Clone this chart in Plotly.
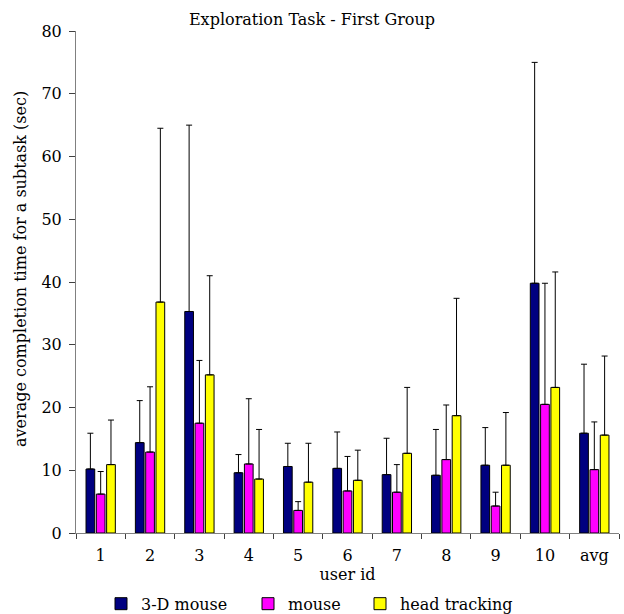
import plotly.graph_objects as go

categories = ["1", "2", "3", "4", "5", "6", "7", "8", "9", "10", "avg"]
mouse3d = [10.2, 14.4, 35.3, 9.6, 10.6, 10.3, 9.3, 9.2, 10.8, 39.8, 15.9]
mouse3d_err_top = [15.9, 21.1, 65.0, 12.5, 14.3, 16.1, 15.1, 16.5, 16.8, 75.0, 26.9]
mouse = [6.2, 12.9, 17.5, 11.0, 3.6, 6.7, 6.5, 11.7, 4.3, 20.5, 10.1]
mouse_err_top = [9.8, 23.3, 27.5, 21.4, 5.0, 12.2, 10.9, 20.4, 6.5, 39.8, 17.7]
head = [10.9, 36.8, 25.2, 8.6, 8.1, 8.4, 12.7, 18.7, 10.8, 23.2, 15.6]
head_err_top = [18.0, 64.5, 41.0, 16.5, 14.3, 13.2, 23.2, 37.4, 19.2, 41.6, 28.2]

series = [
    ("3-D mouse", mouse3d, mouse3d_err_top, "#000080", "legend"),
    ("mouse", mouse, mouse_err_top, "#FF00FF", "legend2"),
    ("head tracking", head, head_err_top, "#FFFF00", "legend3"),
]

FONT = "'DejaVu Serif', 'Liberation Serif', serif"
FS = 16

fig = go.Figure()
for name, vals, tops, color, lg in series:
    fig.add_trace(go.Bar(
        x=categories, y=vals, name=name,
        marker=dict(color=color, line=dict(color="black", width=1)),
        error_y=dict(type="data", symmetric=False,
                     array=[t - v for t, v in zip(tops, vals)],
                     arrayminus=[0] * len(vals),
                     color="black", thickness=1, width=3),
        legend=lg,
    ))

W0, W1 = 76, 619
T0, T1 = 31, 533
def px(p):
    return (p - W0) / (W1 - W0)
def py(p):
    return (T1 - p) / (T1 - T0)

leg_common = dict(orientation="h", yanchor="middle", y=-0.141, xanchor="left",
                  font=dict(family=FONT, size=FS, color="black"),
                  bgcolor="rgba(0,0,0,0)", borderwidth=0)

fig.update_layout(
    width=624, height=614,
    margin=dict(l=76, r=5, t=31, b=81, autoexpand=False),
    paper_bgcolor="white", plot_bgcolor="white",
    barmode="group", bargap=0.374, bargroupgap=0.155,
    font=dict(family=FONT, size=FS, color="black"),
    title=dict(text="Exploration Task - First Group", x=0.5, xref="container",
               xanchor="center", y=1 - 19 / 614, yref="container", yanchor="middle",
               font=dict(family=FONT, size=16, color="black")),
    legend=dict(x=px(101), **leg_common),
    legend2=dict(x=px(248), **leg_common),
    legend3=dict(x=px(360), **leg_common),
    showlegend=True,
    annotations=[dict(text="average completion time for a subtask (sec)",
                      textangle=-90, xref="paper", yref="paper",
                      x=px(20), y=py(269), xanchor="center", yanchor="middle",
                      showarrow=False, font=dict(family=FONT, size=FS, color="black"))],
)
fig.update_xaxes(
    showline=True, linecolor="#808080", linewidth=1,
    ticks="outside", tickson="boundaries", ticklen=5, tickcolor="#404040",
    ticklabelstandoff=8,
    showgrid=False, zeroline=False, automargin=False,
    title=dict(text="user id", standoff=0, font=dict(family=FONT, size=FS)),
    tickfont=dict(family=FONT, size=FS),
)
fig.update_yaxes(
    range=[0, 80], dtick=10, showline=True, linecolor="#808080", linewidth=1,
    ticks="outside", ticklen=6, tickcolor="#404040",
    ticklabelstandoff=4,
    showgrid=False, zeroline=False, automargin=False,
    tickfont=dict(family=FONT, size=FS),
)

fig.write_html("out.html", config={"displayModeBar": False},
               post_script="document.body.style.margin='0';document.body.style.overflow='hidden';")
